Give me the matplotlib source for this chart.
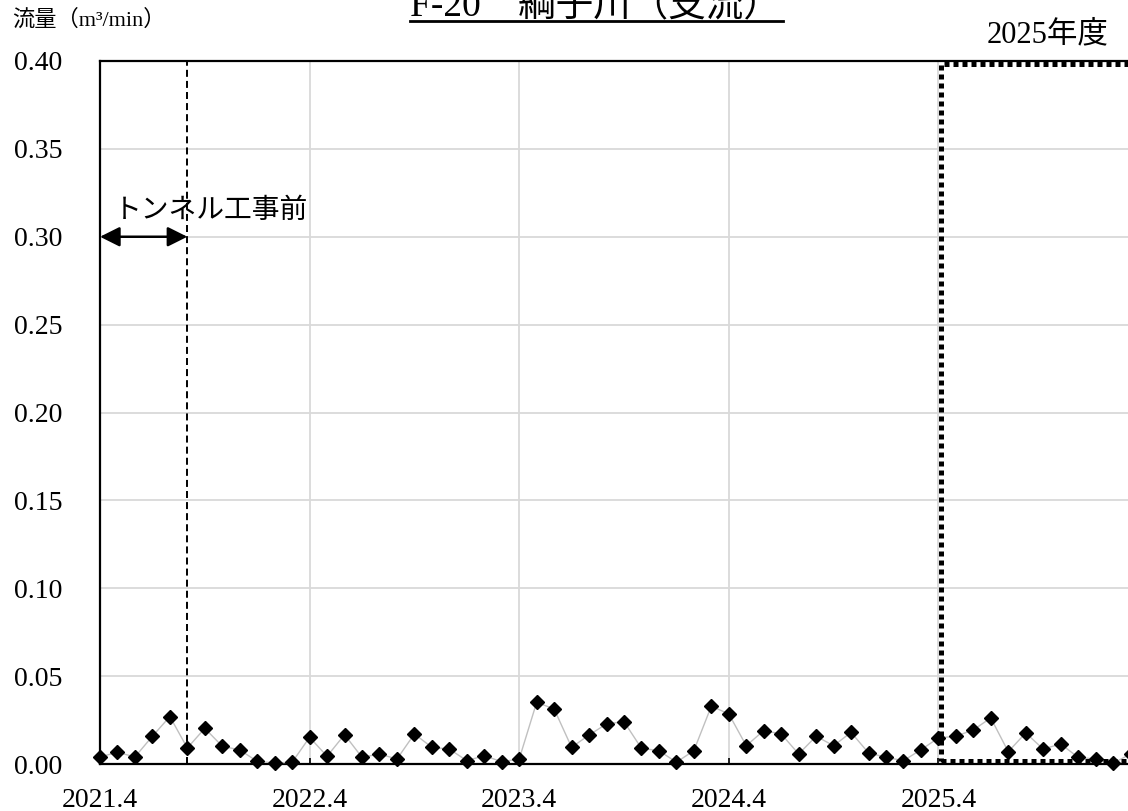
import matplotlib
matplotlib.use("Agg")
import matplotlib.pyplot as plt
from matplotlib.patches import Rectangle
from matplotlib.lines import Line2D

plt.rcParams['font.family'] = ['Liberation Serif', 'Noto Sans CJK JP']

# Monthly flow, April 2021 – March 2026 (m3/min)
months = [f"{2021 + (i + 3) // 12}.{(i + 3) % 12 + 1}" for i in range(60)]
flow = [
    0.0040, 0.0067, 0.0040, 0.0158, 0.0270, 0.0091, 0.0203, 0.0101, 0.0080, 0.0015, 0.0006, 0.0010,
    0.0152, 0.0044, 0.0167, 0.0038, 0.0057, 0.0028, 0.0171, 0.0095, 0.0085, 0.0019, 0.0047, 0.0013,
    0.0028, 0.0351, 0.0313, 0.0095, 0.0165, 0.0228, 0.0241, 0.0089, 0.0076, 0.0010, 0.0076, 0.0329,
    0.0285, 0.0104, 0.0190, 0.0171, 0.0057, 0.0158, 0.0104, 0.0180, 0.0063, 0.0038, 0.0019, 0.0081,
    0.0148, 0.0158, 0.0194, 0.0262, 0.0070, 0.0177, 0.0085, 0.0114, 0.0038, 0.0028, 0.0004, 0.0057,
]
xtick_labels = ["2021.4", "2022.4", "2023.4", "2024.4", "2025.4"]
ytick_values = [0.00, 0.05, 0.10, 0.15, 0.20, 0.25, 0.30, 0.35, 0.40]

construction_start = "2021.9"   # end of the pre-construction period
fiscal_year_start = "2025.4"
fiscal_year_end = "2026.4"

title = "F-20　綱子川（支流）"
ylabel = "流量（m³/min）"
fy_label = "2025年度"
pre_label = "トンネル工事前"

W, H = 1128, 811
fig = plt.figure(figsize=(W / 100, H / 100), dpi=100)
ax = fig.add_axes([100 / W, 47 / H, 1048 / W, 703 / H])

x = list(range(len(months)))
ax.plot(x, flow, color='#c0c0c0', lw=1.0, zorder=3)
ax.plot(x, flow, ls='none', marker='D', ms=7.5, color='black', zorder=4, clip_on=False)

ax.set_xlim(0, 60)
ax.set_ylim(0, 0.40)
ax.set_xticks([months.index(m) for m in xtick_labels])
ax.set_xticklabels(xtick_labels)
ax.set_yticks(ytick_values)
ax.set_yticklabels([f"{v:.2f}" for v in ytick_values])
ax.tick_params(axis='x', direction='in', length=4, width=1.2, labelsize=20, pad=17)
ax.tick_params(axis='y', length=0, labelsize=20, pad=27)
ax.grid(True, color='#d9d9d9', lw=1.3)
ax.set_axisbelow(True)
for s in ('left', 'bottom', 'top'):
    ax.spines[s].set_linewidth(1.6)
ax.spines['right'].set_visible(False)

# pre-construction marker
xc = months.index(construction_start)
ax.axvline(xc, color='black', lw=1.4, ls=(0, (3.6, 2.1)), zorder=2)
ax.annotate('', xy=(0, 0.30), xytext=(xc, 0.30),
            arrowprops=dict(arrowstyle='<|-|>', color='black', lw=1.8,
                            mutation_scale=30, shrinkA=0, shrinkB=0))
ax.text(0.8, 0.3145, pre_label, fontsize=20, va='center', ha='left')

# current fiscal year frame
x0 = months.index(fiscal_year_start) + 0.15
x1 = 60
ax.add_patch(Rectangle((x0, 0.0018), x1 - x0, 0.4 - 0.0018 - 0.0016, fill=False,
                       ec='black', lw=3.6, ls=(0, (1.0, 0.8)), zorder=5, clip_on=False))

fig.text(1108 / W, 1 - 35 / H, fy_label, fontsize=22, ha='right', va='center')
fig.text(12 / W, 1 - 20 / H, ylabel, fontsize=16, ha='left', va='center')
fig.text(410 / W, 1 - 15 / H, title, fontsize=27, ha='left', va='baseline')
fig.add_artist(Line2D([410 / W, 783 / W], [1 - 21 / H, 1 - 21 / H], color='black', lw=2.0))

fig.savefig('out.png', dpi=100)
